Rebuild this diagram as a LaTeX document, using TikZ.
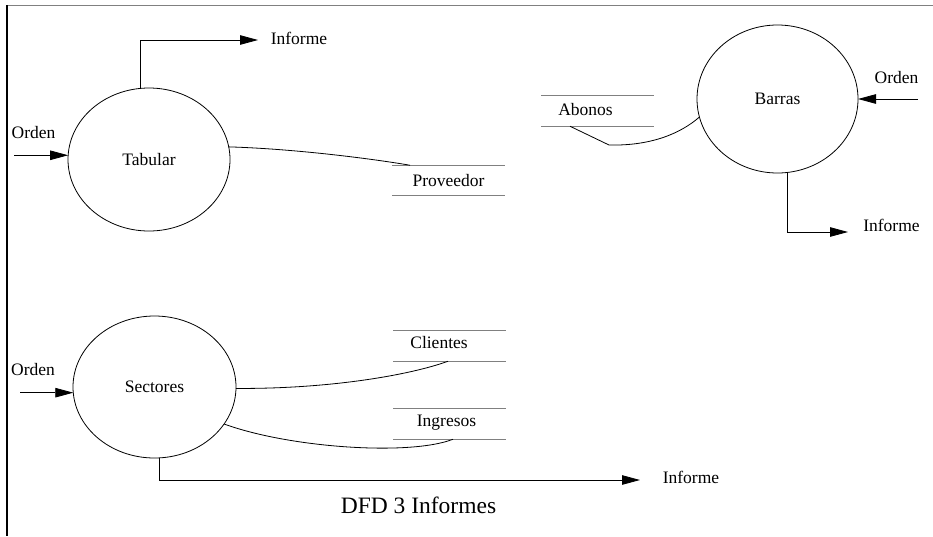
\documentclass[tikz,border=0pt]{standalone}
\usepackage{fontspec}
\setmainfont{Liberation Serif}
\usetikzlibrary{shapes.geometric,arrows.meta}
\begin{document}
\begin{tikzpicture}[x=1pt,y=-1pt,
  txt/.style={font=\fontsize{17.5}{20}\selectfont, inner sep=0pt},
  process/.style={ellipse, draw, line width=0.8pt, inner sep=0pt, outer sep=0pt, txt},
  storeline/.style={draw=gray, line width=1.4pt},
  store/.style={rectangle, minimum width=113pt, minimum height=30.5pt, inner sep=0pt, outer sep=0pt, txt,
    append after command={(\tikzlastnode.north west) edge[storeline] (\tikzlastnode.north east)
                          (\tikzlastnode.south west) edge[storeline] (\tikzlastnode.south east)}},
  flow/.style={line width=0.8pt, -{Triangle[length=18pt,width=9.5pt]}},
  link/.style={line width=0.8pt}]

\useasboundingbox (0,0) rectangle (933,536);

% page frame
\draw[gray, line width=1.5pt] (7,5.5) -- (933,5.5);
\draw[line width=1.3pt] (7,5) -- (7,536);

% processes
\node[process, minimum width=162pt, minimum height=143pt] (tab) at (149,159.5) {Tabular};
\node[process, minimum width=161pt, minimum height=148pt] (bar) at (777.5,99) {Barras};
\node[process, minimum width=163pt, minimum height=142pt] (sec) at (154.5,387) {Sectores};

% data stores
\node[store] (pro) at (448.5,180.5) {Proveedor};
\node[store] (abo) at (597.5,111) {};
\node[txt] (abot) at (585.5,110) {Abonos};
\node[store] (cli) at (449.5,346) {};
\node[txt] (clit) at (439,343) {Clientes};
\node[store] (ing) at (449.5,424) {};
\node[txt] (ingt) at (446.5,423) {Ingresos};

% external labels
\node[txt] (inf1) at (299,38) {Informe};
\node[txt] (ord1) at (33.5,133) {Orden};
\node[txt] (ord2) at (896.5,78) {Orden};
\node[txt] (inf2) at (891.5,225) {Informe};
\node[txt] (ord3) at (33,370) {Orden};
\node[txt] (inf3) at (691,477) {Informe};
\node[txt, font=\fontsize{23.5}{28}\selectfont] (title) at (418.5,505) {DFD 3 Informes};

% free ends of the flows
\coordinate (o1s) at (14,156);
\coordinate (o2s) at (918,99);
\coordinate (o3s) at (20,393);
\coordinate (i1) at (258,40);
\coordinate (i2) at (848,232);
\coordinate (i3) at (640,480);

% incoming orders
\draw[flow] (tab.177 -| o1s) -- (tab.177);
\draw[flow] (bar.east -| o2s) -- (bar.east);
\draw[flow] (sec.184 -| o3s) -- (sec.184);

% outgoing reports
\draw[flow] (tab.97) |- (i1);
\draw[flow] (bar.-82) |- (i2);
\draw[flow] (sec.-86.5) |- (i3);

% store access
\draw[link] (tab.9) .. controls (300,149) and (380,160) .. ([xshift=18pt]pro.north west);
\draw[link] (bar.193) .. controls (680,134) and (650,146) .. (609,145) -- ([xshift=29pt]abo.south west);
\draw[link] (sec.-1) .. controls (330,389) and (410,375) .. ([xshift=55pt]cli.south west);
\draw[link] (sec.-28) .. controls (290,448) and (410,456) .. ([xshift=60pt]ing.south west);

\end{tikzpicture}
\end{document}
